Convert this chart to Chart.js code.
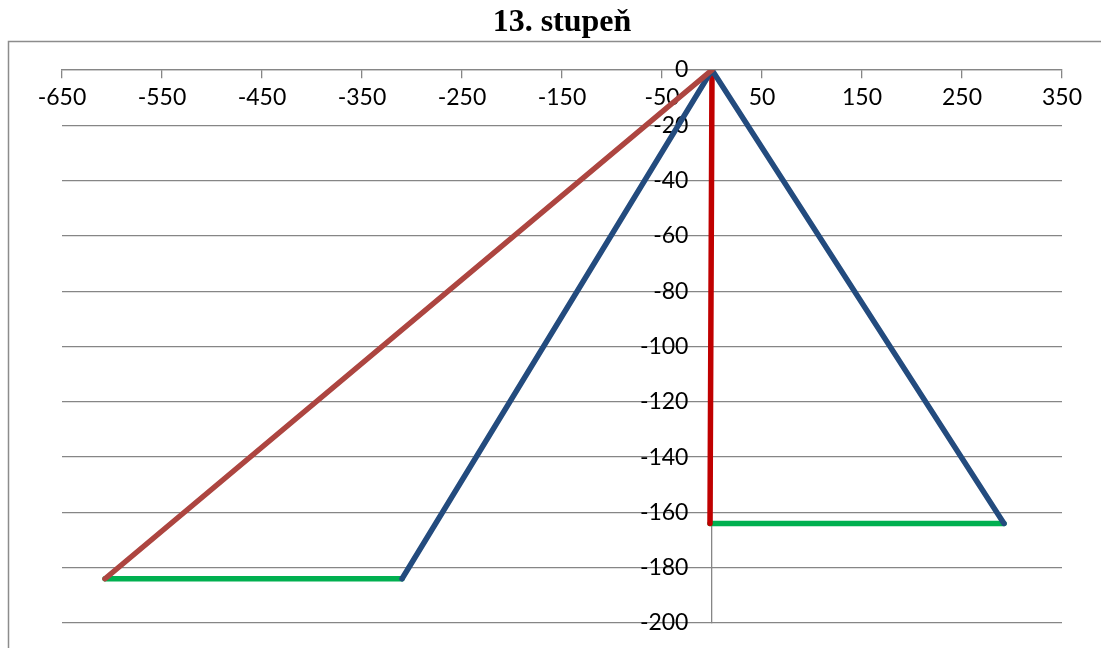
<!DOCTYPE html>
<html>
<head>
<meta charset="utf-8">
<title>13. stupeň</title>
<script src="https://cdn.jsdelivr.net/npm/chart.js@4/dist/chart.umd.min.js"></script>
<style>
  html, body { margin: 0; padding: 0; background: #fff; }
  #wrap { width: 1101px; height: 648px; position: relative; }
</style>
</head>
<body>
<div id="wrap"><canvas id="graf"></canvas></div>
<script>
// hodnoty
const xTicks = [-650, -550, -450, -350, -250, -150, -50, 50, 150, 250, 350];
const yTicks = [0, -20, -40, -60, -80, -100, -120, -140, -160, -180, -200];

const hnedaX = [0, -607];
const hnedaY = [0, -184];
const modraX = [-310, 0, 292];
const modraY = [-184, 0, -164];
const cervenaX = [0, -2];
const cervenaY = [0, -164];
const zelenaLevaX = [-607, -310];
const zelenaLevaY = [-184, -184];
const zelenaPravaX = [-2, 292];
const zelenaPravaY = [-164, -164];

function body(xs, ys) {
    return xs.map((x, i) => ({ x: x, y: ys[i] }));
}

function serie(xs, ys, barva) {
    return {
        data: body(xs, ys),
        showLine: true,
        borderColor: barva,
        backgroundColor: barva,
        borderWidth: 5.5,
        borderCapStyle: 'round',
        borderJoinStyle: 'round',
        pointRadius: 0,
        fill: false
    };
}

// rámeček kolem grafu
const ramecek = {
    id: 'ramecek',
    beforeDraw(chart) {
        const ctx = chart.ctx;
        ctx.save();
        ctx.strokeStyle = '#8c8c8c';
        ctx.lineWidth = 1.5;
        ctx.beginPath();
        ctx.moveTo(8.5, chart.height + 2);
        ctx.lineTo(8.5, 41.5);
        ctx.lineTo(chart.width + 2, 41.5);
        ctx.stroke();
        ctx.restore();
    }
};

Chart.defaults.font.family = 'Lato';
Chart.defaults.font.size = 23;
Chart.defaults.color = '#000';

new Chart(document.getElementById('graf'), {
    type: 'scatter',
    data: {
        datasets: [
            serie(hnedaX, hnedaY, '#AD4540'),
            serie(modraX, modraY, '#234B7E'),
            serie(cervenaX, cervenaY, '#C00000'),
            serie(zelenaLevaX, zelenaLevaY, '#00B050'),
            serie(zelenaPravaX, zelenaPravaY, '#00B050')
        ]
    },
    options: {
        responsive: true,
        maintainAspectRatio: false,
        animation: false,
        layout: { padding: { left: 62, right: 39, top: 0, bottom: 25 } },
        plugins: {
            legend: { display: false },
            tooltip: { enabled: false },
            title: {
                display: true,
                text: '13. stupeň',
                color: '#000',
                font: { family: 'Liberation Serif', size: 32, weight: 'bold' },
                padding: { top: 4, bottom: 27.6 }
            }
        },
        scales: {
            x: {
                type: 'linear',
                position: { y: 0 },
                min: xTicks[0],
                max: xTicks[xTicks.length - 1],
                afterBuildTicks: (s) => { s.ticks = xTicks.map(v => ({ value: v })); },
                ticks: { padding: 6, maxRotation: 0, autoSkip: false },
                grid: { drawOnChartArea: false, drawTicks: true, tickLength: 8, color: '#868686', lineWidth: 1.3 },
                border: { display: true, color: '#868686', width: 1.3 }
            },
            y: {
                type: 'linear',
                position: { x: 0 },
                min: yTicks[yTicks.length - 1],
                max: yTicks[0],
                afterBuildTicks: (s) => { s.ticks = yTicks.map(v => ({ value: v })); },
                // popisky u osy uprostřed ignorují padding, proto mezery za číslem
                ticks: { padding: 0, autoSkip: false, callback: (v) => v + '    ' },
                grid: { drawOnChartArea: true, drawTicks: false, color: '#868686', lineWidth: 1.3 },
                border: { display: true, color: '#868686', width: 1.3 }
            }
        }
    },
    plugins: [ramecek]
});
</script>
</body>
</html>
